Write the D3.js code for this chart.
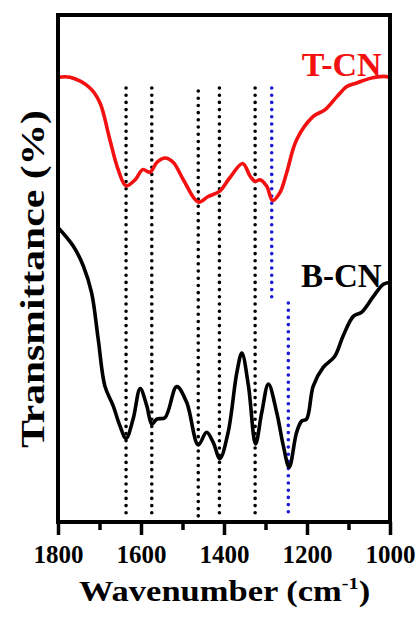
<!DOCTYPE html>
<html>
<head>
<meta charset="utf-8">
<script src="https://cdn.jsdelivr.net/npm/d3@7"></script>
<style>
  body{margin:0;background:#fff;}
  text{font-family:"Liberation Serif","Times New Roman",serif;font-weight:bold;}
</style>
</head>
<body>
<div id="chart"></div>
<script>
// wavenumber (cm-1) vs transmittance (arb. units)
const tcnWave = [1800,1771,1723,1699,1675,1655,1636,1614,1596,1578,1562,1542,1522,1498,1462,1438,1411,1386,1355,1337,1325,1313,1297,1283,1265,1249,1225,1185,1157,1128,1104,1080,1048,1016,1000];
const tcnT    = [87.7,87.7,85.6,82.7,75.4,69.5,66.3,67.5,69.5,69.0,70.9,71.8,70.9,67.5,63.1,64.2,65.2,67.9,70.7,68.2,67.2,67.5,66.2,63.4,65.0,68.9,75.4,80.0,81.3,83.9,85.9,86.6,87.5,87.9,87.7];

const bcnWave = [1800,1763,1739,1719,1703,1687,1667,1651,1636,1619,1602,1586,1574,1562,1542,1514,1490,1462,1442,1426,1410,1390,1369,1357,1341,1324,1309,1293,1273,1257,1243,1225,1213,1201,1185,1161,1133,1113,1088,1068,1040,1016,1000];
const bcnT    = [58.1,54.4,50.5,45.2,36.0,26.8,22.9,19.0,16.5,20.3,26.3,22.9,19.3,20.3,20.6,26.7,23.6,15.2,17.7,15.7,12.5,17.7,29.5,33.3,26.8,15.4,21.6,27.2,21.6,15.0,10.8,17.7,19.9,20.3,26.8,30.5,32.7,36.7,40.6,41.4,44.5,46.9,47.3];

// dotted marker lines
const blackMarks = [1636,1574,1462,1411,1325];
const blueMarks  = [[1285, 85.6, 44.2],[1245, 43.2, 1.8]];
const markTop = 85.6, markBottom = 1.0;

const majorTicks = [1800,1600,1400,1200,1000];
const minorTicks = [1700,1500,1300,1100];

const width = 419, height = 617;
const margin = {top:15, right:29, bottom:95, left:58};
const w = width - margin.left - margin.right;
const h = height - margin.top - margin.bottom;

const svg = d3.select('#chart').append('svg')
  .attr('width', width).attr('height', height)
  .style('background','#fff');
const g = svg.append('g').attr('transform',`translate(${margin.left},${margin.top})`);

const x = d3.scaleLinear().domain([1800,1000]).range([0,w]);
const y = d3.scaleLinear().domain([0,100]).range([h,0]);

// dotted marker lines
g.selectAll('.mark').data(blackMarks).join('line')
  .attr('x1',d=>x(d)).attr('x2',d=>x(d))
  .attr('y1',d=>y(d===1462 ? markTop-0.6 : markTop)).attr('y2',y(markBottom))
  .attr('stroke','#000').attr('stroke-width',3.6)
  .attr('stroke-linecap','round').attr('stroke-dasharray','0 7.2');
g.selectAll('.bmark').data(blueMarks).join('line')
  .attr('x1',d=>x(d[0])).attr('x2',d=>x(d[0]))
  .attr('y1',d=>y(d[1])).attr('y2',d=>y(d[2]))
  .attr('stroke','#1a1ad8').attr('stroke-width',3.6)
  .attr('stroke-linecap','round').attr('stroke-dasharray','0 7.2');

const line = d3.line().x(d=>x(d[0])).y(d=>y(d[1])).curve(d3.curveCatmullRom.alpha(0.5));

g.append('path').datum(d3.zip(tcnWave,tcnT))
  .attr('d',line).attr('fill','none').attr('stroke','#f21010').attr('stroke-width',3.6);
g.append('path').datum(d3.zip(bcnWave,bcnT))
  .attr('d',line).attr('fill','none').attr('stroke','#000').attr('stroke-width',3.6);

// frame
g.append('rect').attr('width',w).attr('height',h)
  .attr('fill','none').attr('stroke','#000').attr('stroke-width',4);

// x axis
const xAxis = d3.axisBottom(x).tickValues(majorTicks).tickSize(13).tickSizeOuter(0).tickFormat(d3.format('d'));
const xg = g.append('g').attr('transform',`translate(0,${h})`).call(xAxis);
xg.select('.domain').remove();
xg.selectAll('.tick line').attr('stroke-width',3.5);
xg.selectAll('.tick text').attr('y',41).attr('dy',0)
  .style('font-size','25px').style('font-family','"Liberation Serif",serif').style('font-weight','bold').attr('fill','#000');
const xMinor = d3.axisBottom(x).tickValues(minorTicks).tickSize(8).tickFormat('');
const xm = g.append('g').attr('transform',`translate(0,${h})`).call(xMinor);
xm.select('.domain').remove();
xm.selectAll('.tick line').attr('stroke-width',3.5);

// labels
g.append('text').attr('x',x(1020)).attr('y',76-margin.top).attr('text-anchor','end')
  .attr('fill','#f21010').style('font-size','34px').text('T-CN');
g.append('text').attr('x',x(1020)).attr('y',287-margin.top).attr('text-anchor','end')
  .attr('fill','#000').style('font-size','33px').text('B-CN');

// axis titles
const xt = svg.append('text').attr('transform','translate(79,601) scale(1.19,1)')
  .style('font-size','29px');
xt.append('tspan').text('Wavenumber (cm');
xt.append('tspan').attr('dy',-12).style('font-size','17px').text('-1');
xt.append('tspan').attr('dy',12).text(')');

svg.append('text').attr('transform','translate(44,448) rotate(-90)')
  .attr('text-anchor','start').attr('textLength',338).attr('lengthAdjust','spacingAndGlyphs')
  .style('font-size','34px').text('Transmittance (%)');
</script>
</body>
</html>
